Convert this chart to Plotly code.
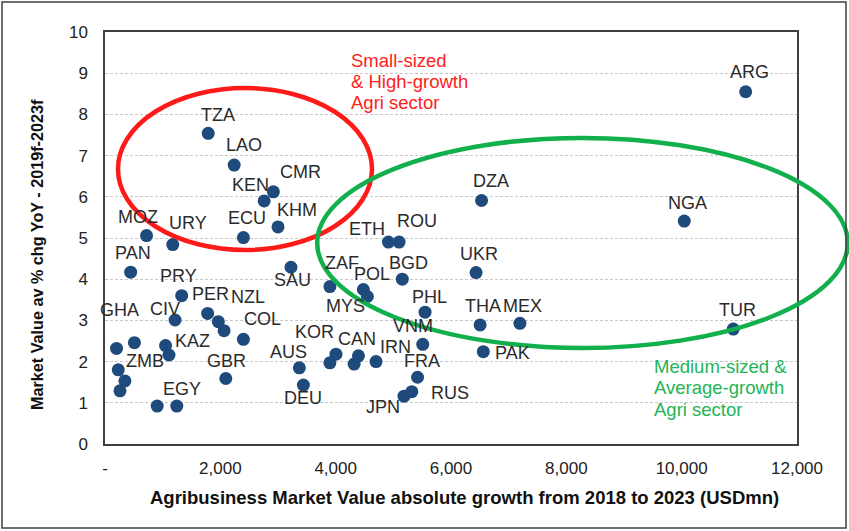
import plotly.graph_objects as go

# ---------------- data ----------------
countries = ["ARG", "TZA", "LAO", "CMR", "KEN", "KHM", "ECU", "MOZ", "URY", "PAN",
             "SAU", "PRY", "PER", "NZL", "", "CIV", "COL", "GHA", "", "KAZ", "",
             "ZMB", "", "", "GBR", "EGY", "", "AUS", "DEU",
             "ETH", "ROU", "ZAF", "POL", "MYS", "BGD", "PHL", "VNM", "KOR", "",
             "CAN", "", "IRN", "FRA", "RUS", "JPN",
             "DZA", "UKR", "THA", "MEX", "PAK", "NGA", "TUR"]
abs_growth = [11110, 1790, 2240, 2920, 2760, 3000, 2400, 720, 1175, 445,
              3225, 1330, 1780, 1965, 2065, 1215, 2400, 510, 200, 1050, 1110,
              230, 345, 260, 2095, 1245, 905, 3370, 3440,
              4915, 5100, 3900, 4480, 4550, 5155, 5550, 5510, 4005, 3900,
              4395, 4320, 4700, 5420, 5320, 5185,
              6530, 6435, 6505, 7195, 6560, 10045, 10895]
yoy_growth = [8.55, 7.54, 6.77, 6.12, 5.90, 5.27, 5.01, 5.06, 4.84, 4.17,
              4.29, 3.60, 3.17, 2.97, 2.75, 3.01, 2.54, 2.46, 2.32, 2.39, 2.16,
              1.80, 1.53, 1.29, 1.59, 0.92, 0.92, 1.85, 1.43,
              4.90, 4.90, 3.82, 3.75, 3.58, 4.00, 3.20, 2.42, 2.18, 1.97,
              2.14, 1.94, 2.00, 1.62, 1.27, 1.16,
              5.91, 4.16, 2.89, 2.93, 2.24, 5.41, 2.79]
# label offsets in pixels (dx right, dy down) relative to each point
label_dx = [4, 10, 10, 27, -14, 19, 4, -9, 15, 2,
            2, -3, 3, 30, 0, -10, 19, -15, 0, 27, 0,
            27, 0, 0, 1, 5, 0, -11, 0,
            -21, 18, 12, 9, -22, 6, 4, -10, -21, 0,
            -1, 0, 19, 4, 38, -21,
            9, 3, 3, 3, 29, 3, 4]
label_dy = [-20, -18, -20, -20, -16, -17, -20, -19, -22, -19,
            13, -20, -19, -25, 0, -11, -20, -33, 0, -5, 0,
            -9, 0, 0, -17, -17, 0, -16, 13,
            -13, -21, -24, -16, 9, -16, -15, -18, -22, 0,
            -17, 0, -15, -16, 1, 11,
            -20, -19, -19, -17, 1, -18, -19]

x_ticks = [0, 2000, 4000, 6000, 8000, 10000, 12000]
x_ticktext = ["-", "2,000", "4,000", "6,000", "8,000", "10,000", "12,000"]
X_RANGE = [0, 12000]
Y_RANGE = [0, 10]
x_title = "Agribusiness Market Value absolute growth from 2018 to 2023 (USDmn)"
y_title = "Market Value av % chg YoY - 2019f-2023f"

# plot area in pixels
W, H = 849, 531
ML, MR, MT, MB = 105, 52, 32, 87
PW, PH = W - ML - MR, H - MT - MB
FONT = "Liberation Sans, Arial"

def paper_x(px):
    return (px - ML) / PW

def paper_y(py):
    return ((H - MB) - py) / PH

def frac_x(v):
    return (v - X_RANGE[0]) / (X_RANGE[1] - X_RANGE[0])

def frac_y(v):
    return (v - Y_RANGE[0]) / (Y_RANGE[1] - Y_RANGE[0])

fig = go.Figure()
fig.add_trace(go.Scatter(
    x=abs_growth, y=yoy_growth, mode="markers",
    marker=dict(size=13, color="#1f4a7c"),
    hoverinfo="text", text=countries, showlegend=False, cliponaxis=False,
))

annotations = []
for c, x, y, dx, dy in zip(countries, abs_growth, yoy_growth, label_dx, label_dy):
    if not c:
        continue
    annotations.append(dict(
        x=x, y=y, xref="x", yref="y", text=c, showarrow=False,
        xshift=dx, yshift=-dy, xanchor="center", yanchor="middle",
        font=dict(family=FONT, size=18, color="#2b2b2b"),
    ))

# region text
red_lines = ["Small-sized", "& High-growth", "Agri sector"]
green_lines = ["Medium-sized &", "Average-growth", "Agri sector"]
for i, t in enumerate(red_lines):
    annotations.append(dict(
        x=4230, y=9.32 - i * 0.52, xref="x", yref="y", text=t, showarrow=False,
        xanchor="left", yanchor="middle",
        font=dict(family=FONT, size=18.5, color="#ff2020"),
    ))
for i, t in enumerate(green_lines):
    annotations.append(dict(
        x=9480, y=1.89 - i * 0.53, xref="x", yref="y", text=t, showarrow=False,
        xanchor="left", yanchor="middle",
        font=dict(family=FONT, size=18.5, color="#22b456"),
    ))

# axis titles
annotations.append(dict(
    x=paper_x(464), y=paper_y(497), xref="paper", yref="paper",
    text="<b>" + x_title + "</b>", showarrow=False,
    xanchor="center", yanchor="middle",
    font=dict(family=FONT, size=18.5, color="#111111"),
))
annotations.append(dict(
    x=paper_x(37), y=paper_y(255), xref="paper", yref="paper",
    text="<b>" + y_title + "</b>", showarrow=False, textangle=-90,
    xanchor="center", yanchor="middle",
    font=dict(family=FONT, size=16.2, color="#111111"),
))

shapes = [
    # red ellipse (data units converted to paper so it is not clipped)
    dict(type="circle", xref="paper", yref="paper",
         x0=frac_x(225), x1=frac_x(4630), y0=frac_y(4.71), y1=frac_y(8.64),
         line=dict(color="#ff1a1a", width=4.5)),
    # green ellipse
    dict(type="circle", xref="paper", yref="paper",
         x0=frac_x(3680), x1=frac_x(12880), y0=frac_y(2.33), y1=frac_y(7.43),
         line=dict(color="#12b04c", width=4.5)),
    # outer chart frame
    dict(type="rect", xref="paper", yref="paper",
         x0=paper_x(2), x1=paper_x(846), y0=paper_y(528), y1=paper_y(2),
         line=dict(color="#404040", width=1.5)),
]

fig.update_layout(
    width=W, height=H,
    margin=dict(l=ML, r=MR, t=MT, b=MB),
    paper_bgcolor="white", plot_bgcolor="white",
    font=dict(family=FONT, color="#222222"),
    annotations=annotations, shapes=shapes,
    xaxis=dict(
        range=X_RANGE, tickvals=x_ticks, ticktext=x_ticktext,
        showgrid=False, zeroline=False,
        showline=True, mirror=True, linecolor="#404040", linewidth=1.5,
        ticks="", ticklabelstandoff=8,
        tickfont=dict(size=17, color="#222222"),
    ),
    yaxis=dict(
        range=Y_RANGE, dtick=1, showgrid=True, gridcolor="#c8c8c8", griddash="3px,2px",
        gridwidth=1, zeroline=False,
        showline=True, mirror=True, linecolor="#404040", linewidth=1.5,
        ticks="", ticklabelstandoff=12,
        tickfont=dict(size=17, color="#222222"),
    ),
)

fig.write_html("out.html", config={"displayModeBar": False},
               post_script="document.body.style.margin='0px';")
